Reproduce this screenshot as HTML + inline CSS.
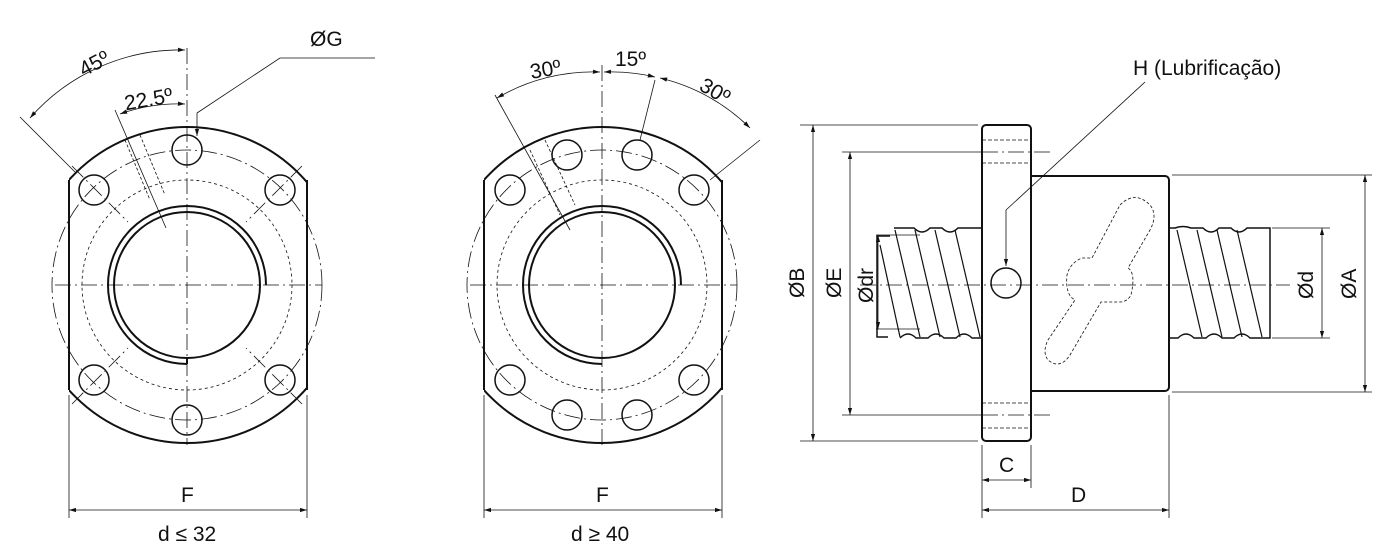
<!DOCTYPE html>
<html><head><meta charset="utf-8"><style>body{margin:0;background:#fff}svg{display:block}text{font-family:"Liberation Sans",sans-serif;font-size:21px;fill:#111}</style></head><body>
<svg width="1395" height="560" viewBox="0 0 1395 560" xmlns="http://www.w3.org/2000/svg">
<defs>
<marker id="a" viewBox="0 0 10 10" refX="10" refY="5" markerWidth="9" markerHeight="9" orient="auto-start-reverse"><path d="M0,2 L10,5 L0,8z" fill="#111"/></marker>
<clipPath id="c1"><rect x="69" y="0" width="238" height="560"/></clipPath>
<clipPath id="c2"><rect x="484" y="0" width="238" height="560"/></clipPath>
</defs>
<g fill="none" stroke="#111">
<!-- LEFT FLANGE -->
<circle cx="187" cy="285" r="158" stroke-width="2" clip-path="url(#c1)"/>
<line x1="69" y1="180" x2="69" y2="390" stroke-width="2"/>
<line x1="307" y1="180" x2="307" y2="390" stroke-width="2"/>
<circle cx="187" cy="285" r="135" stroke-width="0.8" stroke-dasharray="16,4,2,4"/>
<circle cx="187" cy="285" r="105" stroke-width="0.8" stroke-dasharray="3,3"/>
<circle cx="187" cy="285" r="73" stroke-width="2"/>
<path d="M187,364 A79,79 0 1 1 266,285" stroke-width="2"/>
<line x1="187" y1="358" x2="187" y2="364" stroke-width="2"/>
<g stroke-width="1.5">
<circle cx="187" cy="150" r="15"/><circle cx="187" cy="420" r="15"/>
<circle cx="94" cy="190" r="15"/><circle cx="280" cy="190" r="15"/>
<circle cx="94" cy="380" r="15"/><circle cx="280" cy="380" r="15"/>
</g>
<g stroke-width="0.8" stroke-dasharray="16,4,2,4">
<line x1="55" y1="285" x2="322" y2="285"/><line x1="187" y1="48" x2="187" y2="445"/>
<line x1="72" y1="166" x2="128" y2="222"/><line x1="302" y1="166" x2="246" y2="222"/>
<line x1="72" y1="404" x2="128" y2="348"/><line x1="302" y1="404" x2="246" y2="348"/>
</g>
<g stroke-width="0.8">
<line x1="20" y1="117" x2="75" y2="172"/>
<line x1="115" y1="110" x2="166" y2="228"/>
<line x1="125" y1="140" x2="150" y2="200" stroke-dasharray="3,2"/><line x1="140" y1="135" x2="165" y2="195" stroke-dasharray="3,2"/>
<path d="M30,118 A200,200 0 0 1 185,50" marker-start="url(#a)" marker-end="url(#a)"/>
<path d="M120,114 A170,170 0 0 1 185,104" marker-start="url(#a)" marker-end="url(#a)"/>
<polyline points="375,58 280,58 197,113 197,136" marker-end="url(#a)"/>
<line x1="69" y1="395" x2="69" y2="518"/><line x1="307" y1="395" x2="307" y2="518"/>
<line x1="69" y1="510" x2="307" y2="510" marker-start="url(#a)" marker-end="url(#a)"/>
</g>
<!-- MIDDLE FLANGE -->
<circle cx="602" cy="285" r="158" stroke-width="2" clip-path="url(#c2)"/>
<line x1="484" y1="180" x2="484" y2="390" stroke-width="2"/>
<line x1="722" y1="180" x2="722" y2="390" stroke-width="2"/>
<circle cx="602" cy="285" r="135" stroke-width="0.8" stroke-dasharray="16,4,2,4"/>
<circle cx="602" cy="285" r="105" stroke-width="0.8" stroke-dasharray="3,3"/>
<circle cx="602" cy="285" r="73" stroke-width="2"/>
<path d="M602,364 A79,79 0 1 1 681,285" stroke-width="2"/>
<g stroke-width="1.5">
<circle cx="567" cy="155" r="15"/><circle cx="637" cy="155" r="15"/>
<circle cx="567" cy="415" r="15"/><circle cx="637" cy="415" r="15"/>
<circle cx="510" cy="190" r="15"/><circle cx="694" cy="190" r="15"/>
<circle cx="510" cy="380" r="15"/><circle cx="694" cy="380" r="15"/>
</g>
<g stroke-width="0.8" stroke-dasharray="16,4,2,4">
<line x1="470" y1="285" x2="737" y2="285"/><line x1="602" y1="65" x2="602" y2="445"/>
</g>
<g stroke-width="0.8">
<line x1="495" y1="95" x2="570" y2="230"/>
<line x1="530" y1="150" x2="560" y2="215" stroke-dasharray="3,2"/><line x1="545" y1="140" x2="575" y2="205" stroke-dasharray="3,2"/>
<line x1="655" y1="80" x2="640" y2="140"/>
<line x1="760" y1="140" x2="710" y2="180"/>
<path d="M497,98 A190,190 0 0 1 600,72" marker-start="url(#a)" marker-end="url(#a)"/>
<path d="M604,72 A190,190 0 0 1 655,77" marker-start="url(#a)" marker-end="url(#a)"/>
<path d="M660,78 A190,190 0 0 1 750,128" marker-start="url(#a)" marker-end="url(#a)"/>
<line x1="484" y1="395" x2="484" y2="518"/><line x1="722" y1="395" x2="722" y2="518"/>
<line x1="484" y1="510" x2="722" y2="510" marker-start="url(#a)" marker-end="url(#a)"/>
</g>
<!-- SIDE VIEW -->
<rect x="982" y="125" width="49" height="316" rx="4" stroke-width="2"/>
<path d="M1031,176 H1165 a4,4 0 0 1 4,4 V387 a4,4 0 0 1 -4,4 H1031" stroke-width="2"/>
<g stroke-width="1.5">
<path d="M888,337 H877 V236 H890"/>
<path d="M894,228 q5,0 10,0 h10 q8,8 16,0 h12 q8,8 16,0 h16 V228 H982"/>
<path d="M900,338 q8,-8 16,0 h12 q8,-8 16,0 h12 q8,-8 16,0 h10"/>
<path d="M1169,228 h6 q8,-3 16,0 h12 q8,8 16,0 h12 q8,8 16,0 H1270 V338 H1250 q-8,-8 -16,0 h-12 q-8,-8 -16,0 h-12 q-8,-8 -16,0 H1169"/>
</g>
<g stroke-width="1.2">
<line x1="895" y1="230" x2="920" y2="337"/><line x1="915" y1="230" x2="940" y2="337"/>
<line x1="935" y1="230" x2="960" y2="337"/><line x1="955" y1="230" x2="980" y2="337"/>
<line x1="880" y1="245" x2="900" y2="337"/>
<line x1="1177" y1="230" x2="1202" y2="337"/><line x1="1197" y1="230" x2="1222" y2="337"/>
<line x1="1217" y1="230" x2="1242" y2="337"/><line x1="1237" y1="230" x2="1262" y2="337"/>
</g>
<circle cx="1006" cy="283" r="15" stroke-width="1.5"/>
<path d="M1120,205 q15,-15 30,0 q8,10 0,25 L1128,268 q8,5 3,27 q-3,6 -10,7 l-20,0 L1070,355 q-10,15 -22,5 q-6,-8 0,-20 L1075,300 q-10,-5 -8,-25 q3,-12 15,-17 l10,0 z" stroke-width="0.8" stroke-dasharray="3,2"/>
<g stroke-width="0.8">
<line x1="860" y1="285" x2="1290" y2="285" stroke-dasharray="16,4,2,4"/>
<line x1="982" y1="152" x2="1052" y2="152" stroke-dasharray="16,4,2,4"/>
<line x1="982" y1="415" x2="1052" y2="415" stroke-dasharray="16,4,2,4"/>
<line x1="982" y1="140" x2="1031" y2="140" stroke-dasharray="4,2"/><line x1="982" y1="163" x2="1031" y2="163" stroke-dasharray="4,2"/>
<line x1="982" y1="403" x2="1031" y2="403" stroke-dasharray="4,2"/><line x1="982" y1="428" x2="1031" y2="428" stroke-dasharray="4,2"/>
<line x1="800" y1="125" x2="978" y2="125"/><line x1="800" y1="441" x2="978" y2="441"/>
<line x1="813" y1="125" x2="813" y2="441" marker-start="url(#a)" marker-end="url(#a)"/>
<line x1="842" y1="152" x2="982" y2="152"/><line x1="842" y1="415" x2="982" y2="415"/>
<line x1="850" y1="152" x2="850" y2="415" marker-start="url(#a)" marker-end="url(#a)"/>
<line x1="876" y1="235" x2="920" y2="235"/><line x1="876" y1="329" x2="920" y2="329"/>
<line x1="878" y1="235" x2="878" y2="329" marker-start="url(#a)" marker-end="url(#a)"/>
<line x1="1172" y1="175" x2="1372" y2="175"/><line x1="1172" y1="392" x2="1372" y2="392"/>
<line x1="1365" y1="175" x2="1365" y2="392" marker-start="url(#a)" marker-end="url(#a)"/>
<line x1="1272" y1="228" x2="1330" y2="228"/><line x1="1272" y1="338" x2="1330" y2="338"/>
<line x1="1322" y1="228" x2="1322" y2="338" marker-start="url(#a)" marker-end="url(#a)"/>
<line x1="982" y1="445" x2="982" y2="518"/><line x1="1031" y1="445" x2="1031" y2="488"/><line x1="1169" y1="395" x2="1169" y2="518"/>
<line x1="982" y1="480" x2="1031" y2="480" marker-start="url(#a)" marker-end="url(#a)"/>
<line x1="982" y1="510" x2="1169" y2="510" marker-start="url(#a)" marker-end="url(#a)"/>
<polyline points="1145,82 1006,210 1006,266" marker-end="url(#a)"/>
</g>
</g>
<text x="78" y="70" transform="rotate(-28 95 62)">45º</text>
<text x="124" y="106" transform="rotate(-10 150 98)">22.5º</text>
<text x="310" y="46">ØG</text>
<text x="181" y="502">F</text>
<text x="158" y="541">d ≤ 32</text>
<text x="530" y="76" transform="rotate(-10 548 70)">30º</text>
<text x="615" y="66">15º</text>
<text x="700" y="98" transform="rotate(30 715 90)">30º</text>
<text x="596" y="502">F</text>
<text x="571" y="541">d ≥ 40</text>
<text x="1133" y="75">H (Lubrificação)</text>
<text x="999" y="472">C</text>
<text x="1071" y="502">D</text>
<text transform="translate(804,298) rotate(-90)">ØB</text>
<text transform="translate(841,298) rotate(-90)">ØE</text>
<text transform="translate(873,303) rotate(-90)">Ødr</text>
<text transform="translate(1313,299) rotate(-90)">Ød</text>
<text transform="translate(1356,299) rotate(-90)">ØA</text>
</svg>
</body></html>
